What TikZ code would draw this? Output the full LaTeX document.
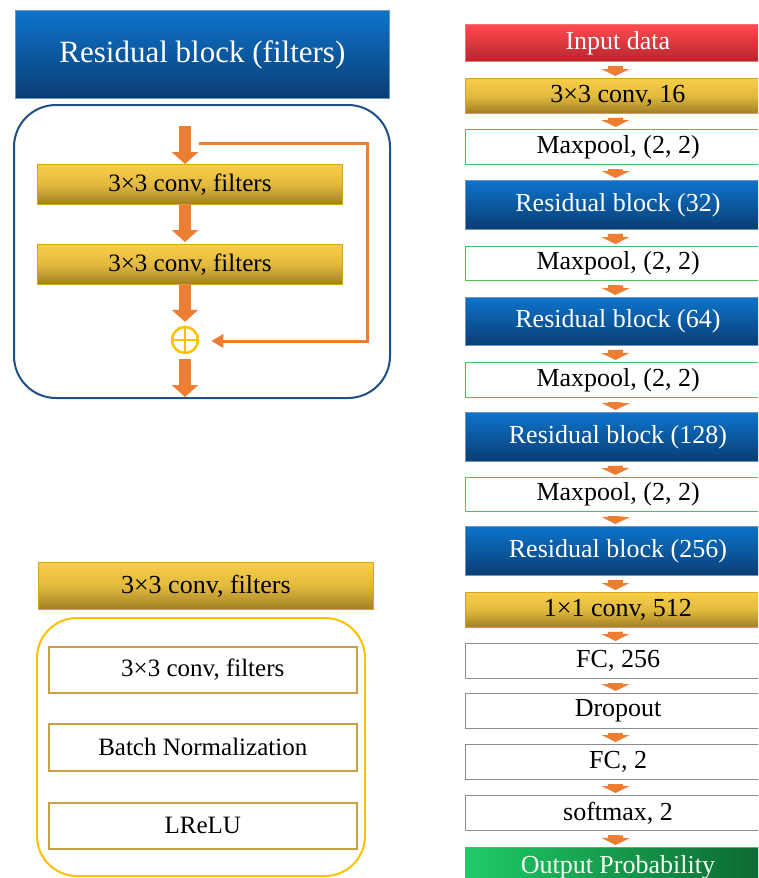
\documentclass[tikz,border=0pt]{standalone}
\usepackage{fontspec}
\setmainfont{Liberation Serif}
\newfontfamily\tnr{Liberation Serif}
\usetikzlibrary{arrows.meta}
\definecolor{org}{HTML}{ED7D31}
\definecolor{goldT}{HTML}{F8CE47}
\definecolor{goldB}{HTML}{A07E24}
\definecolor{goldE}{HTML}{D9A521}
\definecolor{bluT}{HTML}{0D74CB}
\definecolor{bluB}{HTML}{0A3D74}
\definecolor{bluE}{HTML}{6F93BD}
\definecolor{redT}{HTML}{FF4A4F}
\definecolor{redB}{HTML}{B5262E}
\definecolor{grnL}{HTML}{1FCB67}
\definecolor{grnR}{HTML}{0C6630}
\definecolor{poolE}{HTML}{4CC15A}
\definecolor{fcE}{HTML}{8C8C8C}
\definecolor{frameB}{HTML}{1F4E85}
\definecolor{frameG}{HTML}{FFC000}
\definecolor{inE}{HTML}{C8A045}
\tikzset{
  base/.style={rectangle, inner sep=0pt, font=\tnr\fontsize{26}{30}\selectfont},
  blublk/.style={base, top color=bluT, bottom color=bluB, draw=bluE, line width=0.8pt, text=white},
  goldblk/.style={base, top color=goldT, bottom color=goldB, middle color=goldT!75!goldB, draw=goldE, line width=0.8pt, text=black},
  redblk/.style={base, top color=redT, bottom color=redB, draw=redT!80!white, line width=0.8pt, text=white},
  grnblk/.style={base, left color=grnL, right color=grnR, draw=grnL, line width=0.8pt, text=white!95!green},
  poolblk/.style={base, fill=white, draw=poolE, line width=1.2pt},
  fcblk/.style={base, fill=white, draw=fcE, line width=1.2pt},
  inblk/.style={base, fill=white, draw=inE, line width=1.5pt, font=\tnr\fontsize{25}{30}\selectfont},
  bigarr/.style={draw=org, line width=12pt, -{Triangle[width=26pt,length=12pt]}},
  smallarr/.style={draw=org, line width=15pt, -{Triangle[width=28pt,length=7pt]}, shorten <=4pt, shorten >=2pt},
  skiparr/.style={draw=org, line width=3pt, -{Triangle[width=13pt,length=12pt]}},
}
\newcommand\rblk[5]{\pgfmathsetmacro\hh{#4-#3}\node[#2, anchor=north west, minimum width=305pt, minimum height=\hh pt] (#1) at (465,#3) {#5};}
\begin{document}
\begin{tikzpicture}[x=1pt,y=-1pt]
\useasboundingbox (0,0) rectangle (758,878);
\clip (0,0) rectangle (758,878);
% ---------- top-left: residual block ----------
\node[blublk, anchor=north west, minimum width=374pt, minimum height=88pt, font=\tnr\fontsize{31}{36}\selectfont] (rbhead) at (15,10) {Residual block (filters)};
\draw[frameB, line width=2pt, rounded corners=42pt] (14,105) rectangle (390,398);
\node[goldblk, anchor=north west, minimum width=305pt, minimum height=40pt, font=\tnr\fontsize{25}{30}\selectfont] (g1) at (37,164) {3×3 conv, filters};
\node[goldblk, anchor=north west, minimum width=305pt, minimum height=40pt, font=\tnr\fontsize{25}{30}\selectfont] (g2) at (37,244) {3×3 conv, filters};
\node[circle, draw=frameG, line width=2.5pt, minimum size=26pt, inner sep=0pt] (plus) at (185,340) {};
\draw[frameG, line width=2.5pt] (plus.north) -- (plus.south) (plus.west) -- (plus.east);
\coordinate (in1) at (185,126);
\coordinate (out1) at (185,397);
\coordinate (sk0) at (199,143);
\coordinate (sk1) at (367,143);
\coordinate (sk2) at (367,341);
\draw[bigarr] (in1) -- (in1 |- g1.north);
\draw[bigarr, shorten >=2pt] (in1 |- g1.south) -- (in1 |- g2.north);
\draw[bigarr, shorten >=4pt] (in1 |- g2.south) -- (plus.north);
\draw[bigarr, shorten <=5pt] (plus.south) -- (out1);
\draw[skiparr, shorten >=12pt] (sk0) -- (sk1) -- (sk2) -- (plus.east |- sk2);
% ---------- bottom-left: conv block ----------
\node[goldblk, anchor=north west, minimum width=335pt, minimum height=47pt] (cvhead) at (38,562) {3×3 conv, filters};
\draw[frameG, line width=2pt, rounded corners=40pt] (37,618) rectangle (365,876);
\node[inblk, anchor=north west, minimum width=308pt, minimum height=46pt] (c1) at (48,646) {3×3 conv, filters};
\node[inblk, anchor=north west, minimum width=308pt, minimum height=47pt] (c2) at (48,723) {Batch Normalization};
\node[inblk, anchor=north west, minimum width=308pt, minimum height=46pt] (c3) at (48,802) {LReLU};
% ---------- right column ----------
\rblk{n1}{redblk}{24}{61}{Input data}
\rblk{n2}{goldblk}{78}{113}{3×3 conv, 16}
\rblk{n3}{poolblk}{129}{164}{Maxpool, (2, 2)}
\rblk{n4}{blublk}{180}{229}{Residual block (32)}
\rblk{n5}{poolblk}{246}{280}{Maxpool, (2, 2)}
\rblk{n6}{blublk}{297}{345}{Residual block (64)}
\rblk{n7}{poolblk}{362}{397}{Maxpool, (2, 2)}
\rblk{n8}{blublk}{412}{461}{Residual block (128)}
\rblk{n9}{poolblk}{477}{511}{Maxpool, (2, 2)}
\rblk{n10}{blublk}{526}{575}{Residual block (256)}
\rblk{n11}{goldblk}{592}{627}{1×1 conv, 512}
\rblk{n12}{fcblk}{643}{678}{FC, 256}
\rblk{n13}{fcblk}{693}{728}{Dropout}
\rblk{n14}{fcblk}{744}{779}{FC, 2}
\rblk{n15}{fcblk}{795}{830}{softmax, 2}
\rblk{n16}{grnblk}{847}{887}{Output Probability}
\foreach \a/\b in {n1/n2,n2/n3,n3/n4,n4/n5,n5/n6,n6/n7,n7/n8,n8/n9,n9/n10,n10/n11,n11/n12,n12/n13,n13/n14,n14/n15,n15/n16}{
  \draw[smallarr] ([xshift=-2.5pt]\a.south) -- ([xshift=-2.5pt]\b.north);
}
\end{tikzpicture}
\end{document}
